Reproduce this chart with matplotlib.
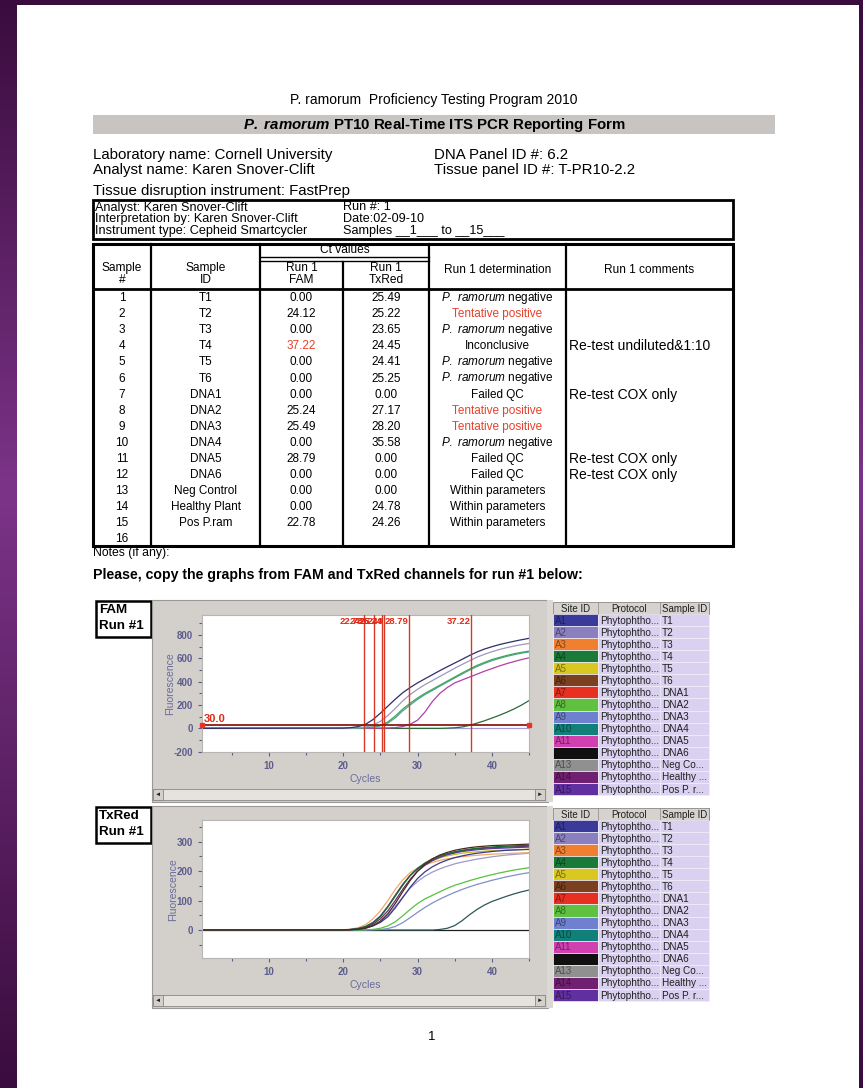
import matplotlib
matplotlib.use('Agg')
import matplotlib.pyplot as plt
from matplotlib.patches import Rectangle
from matplotlib.ticker import MultipleLocator
import numpy as np

plt.rcParams['font.family'] = ['Liberation Sans', 'DejaVu Sans']
plt.rcParams['mathtext.fontset'] = 'custom'
plt.rcParams['mathtext.rm'] = 'Liberation Sans'
plt.rcParams['mathtext.it'] = 'Liberation Sans:italic'
plt.rcParams['mathtext.bf'] = 'Liberation Sans:bold'
plt.rcParams['mathtext.bfit'] = 'Liberation Sans:bold:italic'
plt.rcParams['axes.unicode_minus'] = False

NEG = r'$\mathit{P.}$ $\mathit{ramorum}$ negative'

# ---- reporting form table ----
sample_no = [str(i) for i in range(1, 17)]
sample_id = ['T1', 'T2', 'T3', 'T4', 'T5', 'T6', 'DNA1', 'DNA2', 'DNA3', 'DNA4', 'DNA5', 'DNA6',
             'Neg Control', 'Healthy Plant', 'Pos P.ram', '']
fam_ct = ['0.00', '24.12', '0.00', '37.22', '0.00', '0.00', '0.00', '25.24', '25.49', '0.00',
          '28.79', '0.00', '0.00', '0.00', '22.78', '']
txred_ct = ['25.49', '25.22', '23.65', '24.45', '24.41', '25.25', '0.00', '27.17', '28.20', '35.58',
            '0.00', '0.00', '0.00', '24.78', '24.26', '']
determination = [NEG, 'Tentative positive', NEG, 'Inconclusive', NEG, NEG, 'Failed QC',
                  'Tentative positive', 'Tentative positive', NEG, 'Failed QC', 'Failed QC',
                  'Within parameters', 'Within parameters', 'Within parameters', '']
comments = ['', '', '', 'Re-test undiluted&1:10', '', '', 'Re-test COX only', '', '', '',
            'Re-test COX only', 'Re-test COX only', '', '', '', '']

# ---- instrument legend ----
site_ids = ['A1', 'A2', 'A3', 'A4', 'A5', 'A6', 'A7', 'A8', 'A9', 'A10', 'A11', '', 'A13', 'A14', 'A15']
site_colors = ['#3a3a9a', '#8a80c0', '#f08030', '#1a7a3a', '#d8c820', '#7a4020', '#e83020', '#60c040',
               '#7080d0', '#108078', '#d040b0', '#101010', '#909090', '#702070', '#6030a0']
legend_samples = ['T1', 'T2', 'T3', 'T4', 'T5', 'T6', 'DNA1', 'DNA2', 'DNA3', 'DNA4', 'DNA5', 'DNA6',
                  'Neg Co...', 'Healthy ...', 'Pos P. r...']

# ---- amplification curves, read at cycles 20..45 (flat at 0 before) ----
cycles = list(range(20, 46))
fam_threshold = 30.0
fam_posp = [2, 6, 15, 35, 75, 130, 190, 250, 305, 350, 390, 425, 460, 495, 528, 560, 592, 625, 655, 680,
            700, 718, 733, 747, 760, 772]
fam_t2 = [0, 1, 5, 12, 28, 60, 110, 170, 235, 290, 335, 375, 410, 445, 480, 515, 548, 580, 610, 635,
          657, 676, 692, 706, 718, 728]
fam_dna2 = [0, 0, 1, 5, 12, 26, 55, 105, 165, 215, 260, 300, 335, 370, 405, 440, 475, 508, 540, 565,
            590, 608, 625, 640, 652, 662]
fam_dna3 = [0, 0, 1, 4, 10, 22, 45, 90, 150, 200, 248, 290, 325, 362, 397, 432, 466, 500, 530, 557,
            580, 600, 617, 632, 645, 655]
fam_dna5 = [0, 0, 0, 0, 1, 2, 3, 6, 16, 35, 70, 140, 230, 300, 350, 390, 415, 440, 465, 490, 512, 535,
            555, 573, 590, 605]
fam_t4 = [0, 0, 0, 0, 0, 0, 0, 0, 0, 0, 0, 0, 0, 0, 2, 5, 12, 26, 45, 65, 88, 112, 138, 167, 200, 238]

tx_t1 = [0, 1, 2, 6, 14, 26, 45, 75, 110, 145, 175, 198, 215, 228, 238, 246, 252, 257, 261, 264, 267,
         269, 271, 272, 273, 274]
tx_t2 = [0, 1, 2, 7, 16, 29, 50, 80, 112, 142, 165, 183, 197, 208, 217, 225, 231, 236, 241, 245, 249,
         252, 255, 257, 259, 261]
tx_t3 = [1, 3, 8, 18, 38, 65, 100, 138, 170, 195, 210, 222, 230, 237, 242, 246, 249, 252, 254, 256, 258,
         259, 260, 261, 262, 263]
tx_t4 = [0, 2, 5, 11, 24, 45, 78, 115, 152, 185, 210, 228, 242, 252, 260, 266, 271, 275, 278, 280, 282,
         284, 285, 286, 287, 288]
tx_t5 = [0, 2, 5, 12, 25, 47, 80, 118, 155, 186, 208, 224, 236, 245, 252, 257, 261, 264, 266, 268, 270,
         271, 272, 273, 274, 275]
tx_t6 = [0, 1, 3, 7, 15, 30, 55, 90, 130, 168, 200, 224, 242, 255, 264, 271, 276, 280, 283, 285, 287,
         288, 289, 290, 291, 292]
tx_healthy = [0, 1, 4, 9, 20, 38, 65, 100, 138, 172, 200, 220, 236, 248, 257, 264, 269, 273, 276, 278,
              280, 281, 282, 283, 284, 285]
tx_posp = [0, 2, 5, 12, 26, 48, 80, 118, 155, 185, 208, 225, 238, 248, 256, 262, 267, 270, 273, 275,
           277, 278, 279, 280, 281, 282]
tx_dna2 = [0, 0, 0, 1, 2, 6, 14, 28, 48, 70, 90, 106, 118, 130, 142, 152, 160, 168, 175, 182, 188, 194,
           199, 204, 208, 212]
tx_dna3 = [0, 0, 0, 0, 1, 2, 5, 12, 25, 42, 60, 77, 92, 105, 117, 128, 138, 147, 155, 162, 169, 175,
           181, 186, 191, 195]
tx_dna4 = [0, 0, 0, 0, 0, 0, 0, 0, 0, 0, 0, 0, 0, 2, 6, 15, 32, 52, 70, 85, 97, 106, 115, 123, 130, 136]
flat = [0] * len(cycles)

fam_series = [(flat, '#a89ad8'), (fam_t4, '#2a6a3a'), (fam_dna5, '#b040a8'), (fam_dna3, '#5a9aa0'),
              (fam_dna2, '#3caa50'), (fam_t2, '#a098b8'), (fam_posp, '#2e2e6a')]
tx_series = [(flat, '#202020'), (tx_dna4, '#2f5656'), (tx_dna3, '#8090c8'), (tx_dna2, '#58c040'),
             (tx_t2, '#a098c8'), (tx_t3, '#f0a868'), (tx_t5, '#c8b828'), (tx_t1, '#3a3a8a'),
             (tx_healthy, '#6a2a70'), (tx_posp, '#5a3aa0'), (tx_t4, '#1a6a30'), (tx_t6, '#4a2a18')]

W, H = 863, 1088
fig = plt.figure(figsize=(W / 100, H / 100), dpi=100)

# purple backdrop
bg = fig.add_axes([0, 0, 1, 1])
grad = np.interp(np.linspace(0, 1, 256), [0, 0.45, 1], [0, 1, 0])
c0, c1 = np.array([0x3a, 0x0c, 0x3e]) / 255, np.array([0x7c, 0x34, 0x88]) / 255
bg.imshow((c0 + np.outer(grad, c1 - c0))[:, None, :], aspect='auto', extent=[0, 1, 0, 1])
bg.axis('off')

pg = fig.add_axes([0, 0, 1, 1])
pg.set_xlim(0, W)
pg.set_ylim(H, 0)
pg.axis('off')
pg.add_patch(Rectangle((17, 5), 842, 1090, facecolor='white', edgecolor='none'))


def txt(x, y, s, size=8, **kw):
    kw.setdefault('va', 'center')
    pg.text(x, y, s, fontsize=size, **kw)


def line(x0, y0, x1, y1, lw=1.0, color='black'):
    pg.plot([x0, x1], [y0, y1], color=color, lw=lw, solid_capstyle='projecting')


# header
txt(434, 100, 'P. ramorum  Proficiency Testing Program 2010', 10, ha='center')
pg.add_patch(Rectangle((93, 115), 682, 19, facecolor='#c8c4c2', edgecolor='none'))
txt(434, 124.5, r'$\mathbfit{P.}$ $\mathbfit{ramorum}$ PT10 Real-Time ITS PCR Reporting Form', 10.8,
    ha='center', fontweight='bold')
txt(93, 155, 'Laboratory name: Cornell University', 10.8)
txt(93, 170, 'Analyst name: Karen Snover-Clift', 10.8)
txt(434, 155, 'DNA Panel ID #: 6.2', 10.8)
txt(434, 170, 'Tissue panel ID #: T-PR10-2.2', 10.8)
txt(93, 191, 'Tissue disruption instrument: FastPrep', 10.8)

pg.add_patch(Rectangle((93, 199.5), 640, 39.5, facecolor='none', edgecolor='black', lw=2))
for i, (a, b) in enumerate([('Analyst: Karen Snover-Clift', 'Run #: 1'),
                            ('Interpretation by: Karen Snover-Clift', 'Date:02-09-10'),
                            ('Instrument type: Cepheid Smartcycler', 'Samples __1___ to __15___')]):
    txt(95, 207.5 + i * 11.8, a, 9.1)
    txt(343, 207.5 + i * 11.8, b, 9.1)

# main table
cols = [93, 151, 260, 343, 429, 566, 733]
top, head_bot, bot = 243.5, 289, 546
pg.add_patch(Rectangle((cols[0], top), cols[-1] - cols[0], bot - top, facecolor='none',
                       edgecolor='black', lw=2.2))
for x in cols[1:-1]:
    y0 = 262 if x == cols[3] else top
    line(x, y0, x, bot, 1.6)
line(cols[0], head_bot, cols[-1], head_bot, 2.0)
line(cols[2], 257, cols[4], 257, 1.0)
line(cols[2], 260.5, cols[4], 260.5, 1.0)
hs = 8.6
txt((cols[2] + cols[4]) / 2, 250, 'Ct values', hs, ha='center')
txt((cols[0] + cols[1]) / 2, 268, 'Sample', hs, ha='center')
txt((cols[0] + cols[1]) / 2, 280, '#', hs, ha='center')
txt((cols[1] + cols[2]) / 2, 268, 'Sample', hs, ha='center')
txt((cols[1] + cols[2]) / 2, 280, 'ID', hs, ha='center')
txt((cols[2] + cols[3]) / 2, 268, 'Run 1', hs, ha='center')
txt((cols[2] + cols[3]) / 2, 280, 'FAM', hs, ha='center')
txt((cols[3] + cols[4]) / 2, 268, 'Run 1', hs, ha='center')
txt((cols[3] + cols[4]) / 2, 280, 'TxRed', hs, ha='center')
txt((cols[4] + cols[5]) / 2, 270, 'Run 1 determination', hs, ha='center')
txt((cols[5] + cols[6]) / 2, 270, 'Run 1 comments', hs, ha='center')

red = '#e8402a'
ds = 8.5
for i in range(16):
    y = 298 + i * 16.1
    txt((cols[0] + cols[1]) / 2, y, sample_no[i], ds, ha='center')
    txt((cols[1] + cols[2]) / 2, y, sample_id[i], ds, ha='center')
    fc = red if fam_ct[i] == '37.22' else 'black'
    txt((cols[2] + cols[3]) / 2, y, fam_ct[i], ds, ha='center', color=fc)
    txt((cols[3] + cols[4]) / 2, y, txred_ct[i], ds, ha='center')
    dc = red if determination[i].startswith('Tentative') else 'black'
    txt((cols[4] + cols[5]) / 2, y, determination[i], ds, ha='center', color=dc)
    txt(cols[5] + 3, y, comments[i], 10)

txt(93, 553, 'Notes (if any):', 8.8)
txt(93, 575, 'Please, copy the graphs from FAM and TxRed channels for run #1 below:', 10.2,
    fontweight='bold')


def ax_px(x0, y0, x1, y1):
    return fig.add_axes([x0 / W, 1 - y1 / H, (x1 - x0) / W, (y1 - y0) / H])


def window(y_top, label):
    pg.add_patch(Rectangle((96, y_top + 1), 55, 36, facecolor='white', edgecolor='black', lw=1.8))
    txt(99, y_top + 10, label, 9.6, fontweight='bold')
    txt(99, y_top + 26, 'Run #1', 9.6, fontweight='bold')
    pg.add_patch(Rectangle((152, y_top), 396, 202, facecolor='#d3d0cc', edgecolor='#9a9896', lw=0.8))
    pg.add_patch(Rectangle((153, y_top + 189), 392, 11, facecolor='#e6e3df', edgecolor='#8a8886', lw=0.6))
    pg.add_patch(Rectangle((153, y_top + 189), 10, 11, facecolor='#d3d0cc', edgecolor='#8a8886', lw=0.6))
    pg.add_patch(Rectangle((535, y_top + 189), 10, 11, facecolor='#d3d0cc', edgecolor='#8a8886', lw=0.6))
    txt(158, y_top + 194.5, '◄', 4.5, ha='center', color='#202020')
    txt(540, y_top + 194.5, '►', 4.5, ha='center', color='#202020')
    pg.add_patch(Rectangle((547, y_top), 6, 202, facecolor='#dcd9d5', edgecolor='none'))
    # legend grid
    lx = [553, 598, 660, 709]
    ly = y_top + 2
    rh = 12.07
    pg.add_patch(Rectangle((lx[0], ly), lx[3] - lx[0], 12, facecolor='#d6d3cf', edgecolor='#8a8886', lw=0.6))
    for j, h in enumerate(['Site ID', 'Protocol', 'Sample ID']):
        txt((lx[j] + lx[j + 1]) / 2, ly + 6.5, h, 7, ha='center', color='#202020')
        line(lx[j + 1], ly, lx[j + 1], ly + 12, 0.5, '#8a8886')
    for k in range(15):
        yy = ly + 12 + k * rh
        pg.add_patch(Rectangle((lx[0], yy), lx[1] - lx[0], rh, facecolor=site_colors[k],
                               edgecolor='#f2eef8', lw=0.5))
        pg.add_patch(Rectangle((lx[1], yy), lx[3] - lx[1], rh, facecolor='#d9d1ef',
                               edgecolor='#f2eef8', lw=0.5))
        line(lx[2], yy, lx[2], yy + rh, 0.5, '#f2eef8')
        sc = np.array(matplotlib.colors.to_rgb(site_colors[k])) * 0.55
        txt(lx[0] + 2, yy + rh / 2 + 0.5, site_ids[k], 7, color=sc)
        txt(lx[1] + 2, yy + rh / 2 + 0.5, 'Phytophtho...', 7.2, color='#202020')
        txt(lx[2] + 2, yy + rh / 2 + 0.5, legend_samples[k], 7.2, color='#202020')


def style_axes(ax, ymin, ymax, ymaj, ymin_step):
    tc = '#5c5c8e'
    ax.set_xlim(1, 45)
    ax.set_ylim(ymin, ymax)
    ax.set_facecolor('white')
    for s in ax.spines.values():
        s.set_color('#b8b6b4')
        s.set_linewidth(0.8)
    ax.xaxis.set_major_locator(MultipleLocator(10))
    ax.xaxis.set_minor_locator(MultipleLocator(5))
    ax.yaxis.set_major_locator(MultipleLocator(ymaj))
    ax.yaxis.set_minor_locator(MultipleLocator(ymin_step))
    ax.tick_params(which='both', colors=tc, labelsize=7, length=3, width=0.8)
    ax.tick_params(which='minor', length=2)
    for lab in ax.get_xticklabels() + ax.get_yticklabels():
        lab.set_fontweight('bold')
    ax.set_xlabel('Cycles', fontsize=7.5, color='#6a6a9c', labelpad=2)
    ax.set_ylabel('Fluorescence', fontsize=7.5, color='#6a6a9c', labelpad=-1)


# FAM window
window(600, 'FAM')
ax1 = ax_px(202, 615, 529, 751.7)
style_axes(ax1, -200, 972, 200, 100)
for vals, col in fam_series:
    ax1.plot([1] + cycles, [0] + vals, color=col, lw=0.9)
ax1.plot([1, 45], [fam_threshold, fam_threshold], color='#8a1c14', lw=1.3, marker='s', ms=3.2,
         mfc='#f03020', mec='#f03020', clip_on=False, zorder=5)
ax1.text(1.3, fam_threshold + 8, '30.0', color='#e02a18', fontsize=8, fontweight='bold', va='bottom')
for v in fam_ct:
    if v not in ('', '0.00'):
        ct = float(v)
        ax1.axvline(ct, color='#d63a26', lw=1.0, zorder=4)
        ax1.text(ct, 958, v, color='#e02a18', fontsize=6.8, fontweight='bold', ha='right', va='top',
                 zorder=6)

# TxRed window
window(806, 'TxRed')
ax2 = ax_px(202, 820, 529, 958.3)
style_axes(ax2, -96, 374, 100, 50)
ax2.yaxis.set_major_locator(matplotlib.ticker.FixedLocator([0, 100, 200, 300]))
for vals, col in tx_series:
    ax2.plot([1] + cycles, [0] + vals, color=col, lw=0.9)

txt(432, 1037, '1', 9.5, ha='center')

fig.savefig('out.png', dpi=100)
